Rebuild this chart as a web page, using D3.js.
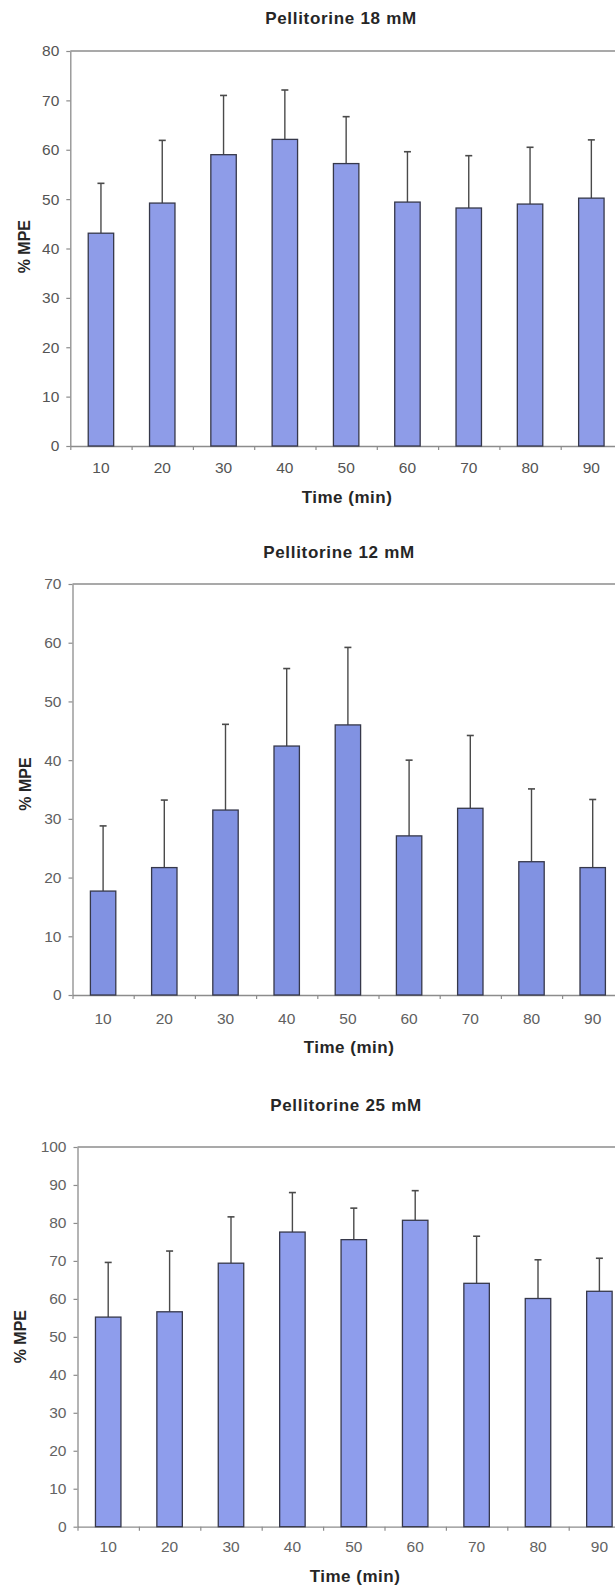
<!DOCTYPE html>
<html>
<head>
<meta charset="utf-8">
<script src="https://cdn.jsdelivr.net/npm/d3@7"></script>
<style>
  html, body { margin: 0; padding: 0; background: #ffffff; }
  svg { display: block; }
  text { font-family: "Liberation Sans", Arial, Helvetica, sans-serif; }
</style>
</head>
<body>
<svg id="chart" width="615" height="1586"></svg>
<script>
// Time points (minutes) shared by all three panels
const categories = ["10", "20", "30", "40", "50", "60", "70", "80", "90"];

// Pellitorine 18 mM: mean %MPE and SD
const mean18 = [43.1, 49.2, 59.0, 62.1, 57.2, 49.4, 48.2, 49.0, 50.2];
const sd18   = [10.1, 12.7, 12.0, 10.0, 9.5, 10.2, 10.6, 11.5, 11.8];
const ticks18 = [0, 10, 20, 30, 40, 50, 60, 70, 80];

// Pellitorine 12 mM
const mean12 = [17.7, 21.7, 31.5, 42.4, 46.0, 27.1, 31.8, 22.7, 21.7];
const sd12   = [11.1, 11.5, 14.6, 13.2, 13.2, 12.9, 12.4, 12.4, 11.6];
const ticks12 = [0, 10, 20, 30, 40, 50, 60, 70];

// Pellitorine 25 mM
const mean25 = [55.2, 56.6, 69.4, 77.6, 75.6, 80.7, 64.1, 60.1, 62.0];
const sd25   = [14.4, 16.0, 12.2, 10.4, 8.3, 7.8, 12.4, 10.2, 8.7];
const ticks25 = [0, 10, 20, 30, 40, 50, 60, 70, 80, 90, 100];

const titles = ["Pellitorine 18 mM", "Pellitorine 12 mM", "Pellitorine 25 mM"];
const xTitle = "Time (min)";
const yTitle = "% MPE";

// Panel placement on the page
const panels = [
  { title: titles[0], mean: mean18, sd: sd18, ticks: ticks18,
    top: 51, bottom: 446, left: 70.3, step: 61.3,
    titleX: 341, titleY: 18.5, xLabY: 467.7, xTitleX: 347, xTitleY: 497,
    yTitleX: 24, yTitleY: 246.7, fill: "#8e9ce8", tickText: "#545454" },
  { title: titles[1], mean: mean12, sd: sd12, ticks: ticks12,
    top: 584, bottom: 995, left: 72.5, step: 61.2,
    titleX: 339, titleY: 552, xLabY: 1018.3, xTitleX: 349, xTitleY: 1047,
    yTitleX: 25, yTitleY: 784, fill: "#8192e2", tickText: "#606060" },
  { title: titles[2], mean: mean25, sd: sd25, ticks: ticks25,
    top: 1147, bottom: 1526.7, left: 77.5, step: 61.4,
    titleX: 346, titleY: 1105, xLabY: 1546.7, xTitleX: 355, xTitleY: 1576,
    yTitleX: 20, yTitleY: 1336.7, fill: "#8e9dec", tickText: "#636363" }
];

const svg = d3.select("#chart");
const axisGray = "#8c8c8c";

panels.forEach(p => {
  const g = svg.append("g");
  const right = p.left + p.step * categories.length;
  const pin = 0.585;

  const x = d3.scaleBand()
    .domain(categories)
    .range([p.left, right])
    .paddingInner(pin)
    .paddingOuter(pin / 2);

  const yMax = d3.max(p.ticks);
  const y = d3.scaleLinear().domain([0, yMax]).range([p.bottom, p.top]);

  // plot frame: top and right border
  g.append("line")
    .attr("x1", p.left).attr("x2", right)
    .attr("y1", p.top).attr("y2", p.top)
    .attr("stroke", axisGray).attr("stroke-width", 1.3);
  g.append("line")
    .attr("x1", right).attr("x2", right)
    .attr("y1", p.top).attr("y2", p.bottom)
    .attr("stroke", axisGray).attr("stroke-width", 1.3);

  // y axis
  const yAxis = g.append("g")
    .attr("transform", `translate(${p.left},0)`)
    .call(d3.axisLeft(y).tickValues(p.ticks).tickSize(4).tickSizeOuter(0).tickPadding(7));
  yAxis.select(".domain").attr("stroke", axisGray).attr("stroke-width", 1.3);
  yAxis.selectAll(".tick line").attr("stroke", axisGray).attr("stroke-width", 1.2);
  yAxis.selectAll(".tick text")
    .attr("fill", p.tickText).attr("font-size", 15.5)
    .style("font-family", "'Liberation Sans', Arial, sans-serif");

  // x axis: category boundary tick marks
  const bounds = d3.scaleLinear().domain([0, categories.length]).range([p.left, right]);
  const xTicks = g.append("g")
    .attr("transform", `translate(0,${p.bottom})`)
    .call(d3.axisBottom(bounds).tickValues(d3.range(0, categories.length + 1))
      .tickFormat("").tickSize(4).tickSizeOuter(0));
  xTicks.select(".domain").attr("stroke", axisGray).attr("stroke-width", 1.3);
  xTicks.selectAll(".tick line").attr("stroke", axisGray).attr("stroke-width", 1.2);

  // x axis: category labels centred under the bars
  const labPad = p.xLabY - p.bottom - 5.5;
  const xLabels = g.append("g")
    .attr("transform", `translate(0,${p.bottom})`)
    .call(d3.axisBottom(x).tickSize(0).tickPadding(labPad));
  xLabels.select(".domain").remove();
  xLabels.selectAll(".tick text")
    .attr("fill", p.tickText).attr("font-size", 15.5)
    .style("font-family", "'Liberation Sans', Arial, sans-serif");

  const data = categories.map((c, i) => ({ c, m: p.mean[i], s: p.sd[i] }));

  // error bars (upper only)
  const err = g.append("g").selectAll("g").data(data).join("g");
  err.append("line")
    .attr("x1", d => x(d.c) + x.bandwidth() / 2)
    .attr("x2", d => x(d.c) + x.bandwidth() / 2)
    .attr("y1", d => y(d.m))
    .attr("y2", d => y(d.m + d.s))
    .attr("stroke", "#4a4a4a").attr("stroke-width", 1.4);
  err.append("line")
    .attr("x1", d => x(d.c) + x.bandwidth() / 2 - 3.5)
    .attr("x2", d => x(d.c) + x.bandwidth() / 2 + 3.5)
    .attr("y1", d => y(d.m + d.s))
    .attr("y2", d => y(d.m + d.s))
    .attr("stroke", "#4a4a4a").attr("stroke-width", 1.6);

  // bars
  g.append("g").selectAll("rect").data(data).join("rect")
    .attr("x", d => x(d.c))
    .attr("width", x.bandwidth())
    .attr("y", d => y(d.m))
    .attr("height", d => y(0) - y(d.m))
    .attr("fill", p.fill)
    .attr("stroke", "#36384a").attr("stroke-width", 1.3);

  // titles
  g.append("text")
    .attr("x", p.titleX).attr("y", p.titleY)
    .attr("text-anchor", "middle").attr("dominant-baseline", "central")
    .attr("font-size", 17).attr("font-weight", "bold")
    .attr("letter-spacing", 0.7)
    .attr("fill", "#262626")
    .text(p.title);

  g.append("text")
    .attr("x", p.xTitleX).attr("y", p.xTitleY)
    .attr("text-anchor", "middle").attr("dominant-baseline", "central")
    .attr("font-size", 17).attr("font-weight", "bold")
    .attr("letter-spacing", 0.5)
    .attr("fill", "#262626")
    .text(xTitle);

  g.append("text")
    .attr("transform", `translate(${p.yTitleX},${p.yTitleY}) rotate(-90)`)
    .attr("text-anchor", "middle").attr("dominant-baseline", "central")
    .attr("font-size", 16).attr("font-weight", "bold")
    .attr("fill", "#262626")
    .text(yTitle);
});
</script>
</body>
</html>
